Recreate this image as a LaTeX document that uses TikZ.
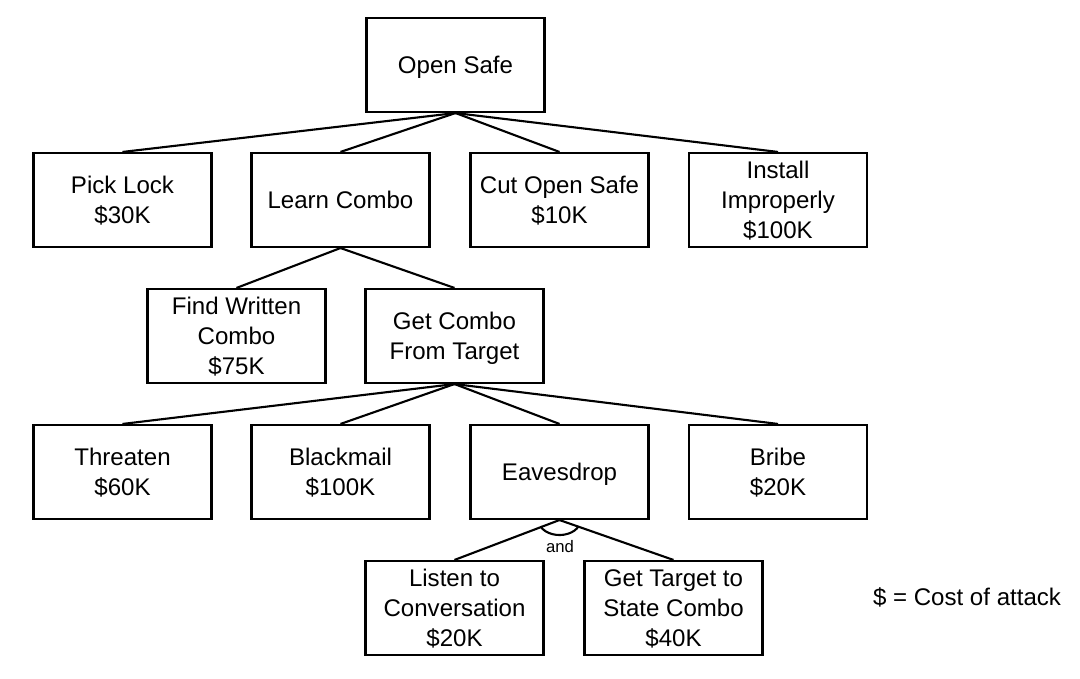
\documentclass[tikz,border=0pt]{standalone}
\usepackage{fontspec}
\setmainfont{Liberation Sans}

\begin{document}
\begin{tikzpicture}[
  x=0.02cm, y=0.02cm,
  font=\fontsize{13.7}{17}\selectfont,
  line width=1.2pt,
  attack/.style={draw, rectangle, align=center, inner sep=2pt, text depth=0pt,
    minimum width=3.56cm, minimum height=1.88cm}
]
\useasboundingbox (0,0) rectangle (1080,679);

% ------------------- Root ------------------- %
\node[attack] (safe) at (455.5,614) {Open Safe};

% ------------------- Level 1 ------------------- %
\node[attack] (pick)    at (122.5,479) {Pick Lock\\\$30K};
\node[attack] (learn)   at (340.5,479) {Learn Combo};
\node[attack] (cut)     at (559.5,479) {Cut Open Safe\\\$10K};
\node[attack] (install) at (778,479)   {Install\\Improperly\\\$100K};

% ------------------- Level 2 ------------------- %
\node[attack] (written) at (236.5,343) {Find Written\\Combo\\\$75K};
\node[attack] (target)  at (454.5,343) {Get Combo\\From Target};

% ------------------- Level 3 ------------------- %
\node[attack] (threaten)  at (122.5,207) {Threaten\\\$60K};
\node[attack] (blackmail) at (340.5,207) {Blackmail\\\$100K};
\node[attack] (eaves)     at (559.5,207) {Eavesdrop};
\node[attack] (bribe)     at (778,207)   {Bribe\\\$20K};

% ------------------- Level 4 ------------------- %
\node[attack] (listen) at (454.5,71) {Listen to\\Conversation\\\$20K};
\node[attack] (state)  at (673.5,71) {Get Target to\\State Combo\\\$40K};

% Legend
\node (legend) at (967,82) {\$ = Cost of attack};

% Connections
\foreach \c in {pick,learn,cut,install} {
  \draw (safe.south) -- (\c.north);
}
\foreach \c in {written,target} {
  \draw (learn.south) -- (\c.north);
}
\foreach \c in {threaten,blackmail,eaves,bribe} {
  \draw (target.south) -- (\c.north);
}
\foreach \c in {listen,state} {
  \draw (eaves.south) -- (\c.north);
}

% AND gate under Eavesdrop
\draw ([shift={(205:21 and 15)}]eaves.south)
  arc[start angle=205, end angle=335, x radius=21, y radius=15];
\node[font=\fontsize{9.5}{11}\selectfont] (andlbl) at (560,132) {and};

\end{tikzpicture}
\end{document}
